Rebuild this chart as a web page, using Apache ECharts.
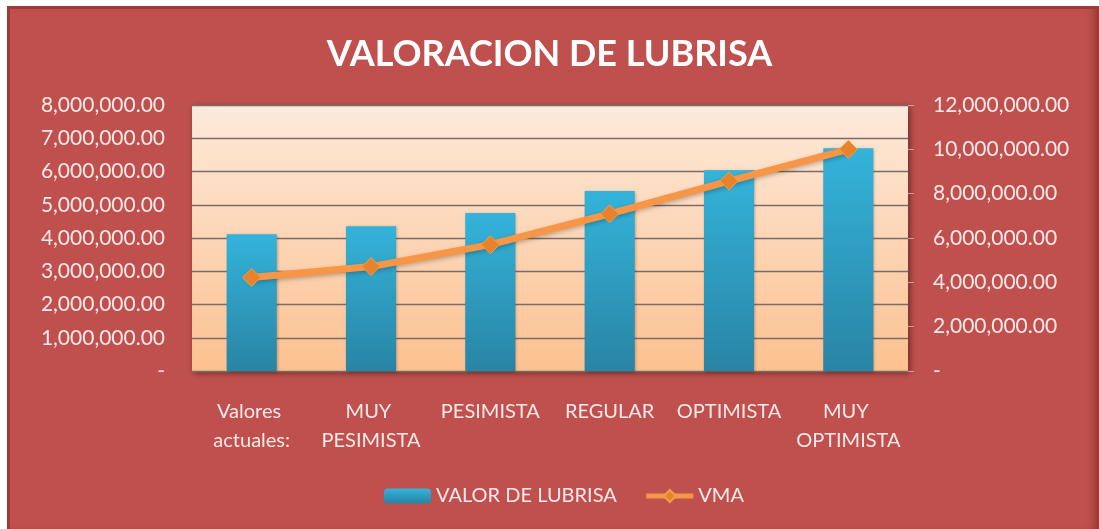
<!DOCTYPE html>
<html>
<head>
<meta charset="utf-8">
<script src="https://cdn.jsdelivr.net/npm/echarts@6/dist/echarts.min.js"></script>
<style>
  html, body { margin: 0; padding: 0; background: #fff; }
  #frame {
    position: absolute; left: 7px; top: 6px; width: 1092px; height: 523px;
    background: #C0504D;
    box-shadow: inset 3px 3px 0 #9E3A37, inset -8px 0 8px -4px #8E3431;
  }
  #chart { position: absolute; left: -7px; top: -6px; width: 1099px; height: 529px; }
</style>
</head>
<body>
<div id="frame"><div id="chart"></div></div>
<script>
var categories = ['Valores actuales:', 'MUY PESIMISTA', 'PESIMISTA', 'REGULAR', 'OPTIMISTA', 'MUY OPTIMISTA'];
var valorLubrisa = [4110000, 4350000, 4750000, 5410000, 6040000, 6700000];
var vma = [4220000, 4710000, 5700000, 7090000, 8570000, 10000000];

var labelColor = '#F9E9E8';
function fmt(v) {
  if (v === 0) return '-';
  return v.toLocaleString('en-US', { minimumFractionDigits: 2, maximumFractionDigits: 2 });
}

var myChart = echarts.init(document.getElementById('chart'));
var option = {
  backgroundColor: 'transparent',
  textStyle: { fontFamily: 'Lato' },
  title: {
    text: 'VALORACION DE LUBRISA',
    left: 'center',
    top: 31,
    textStyle: { color: '#fff', fontSize: 36, fontWeight: 'bold', fontFamily: 'Lato' }
  },
  legend: {
    top: 481,
    left: 379,
    itemWidth: 47,
    itemHeight: 15,
    itemGap: 27,
    textStyle: { color: labelColor, fontSize: 20, fontFamily: 'Lato' },
    lineStyle: { width: 5 },
    data: ['VALOR DE LUBRISA', 'VMA']
  },
  grid: {
    left: 192, right: 191, top: 105, bottom: 158,
    show: true,
    borderWidth: 0,
    backgroundColor: new echarts.graphic.LinearGradient(0, 0, 0, 1, [
      { offset: 0, color: '#FDEADB' },
      { offset: 1, color: '#FCC190' }
    ]),
    shadowBlur: 6,
    shadowColor: 'rgba(0,0,0,0.45)',
    shadowOffsetX: 2,
    shadowOffsetY: 2
  },
  xAxis: {
    type: 'category',
    data: categories,
    axisLine: { show: false },
    axisTick: { show: false },
    axisLabel: {
      color: labelColor, fontSize: 20, margin: 26, lineHeight: 29,
      width: 118, overflow: 'break', interval: 0
    }
  },
  yAxis: [
    {
      type: 'value',
      min: 0, max: 8000000, interval: 1000000,
      axisLine: { show: false },
      axisTick: { show: false },
      splitLine: { lineStyle: { color: '#7A6C66', width: 1.3 } },
      axisLabel: { color: labelColor, fontSize: 21, margin: 27, formatter: fmt }
    },
    {
      type: 'value',
      min: 0, max: 12000000, interval: 2000000,
      position: 'right',
      axisLine: { show: false },
      axisTick: { show: true, length: 6, lineStyle: { color: '#D99A98' } },
      splitLine: { show: false },
      axisLabel: { color: labelColor, fontSize: 21, margin: 25, formatter: fmt }
    }
  ],
  series: [
    {
      name: 'VALOR DE LUBRISA',
      type: 'bar',
      data: valorLubrisa,
      barWidth: '42%',
      itemStyle: {
        color: new echarts.graphic.LinearGradient(0, 0, 0, 1, [
          { offset: 0, color: '#34B3DA' },
          { offset: 1, color: '#2984A4' }
        ]),
        shadowBlur: 3,
        shadowColor: 'rgba(0,0,0,0.3)',
        shadowOffsetX: 1,
        shadowOffsetY: 1
      }
    },
    {
      name: 'VMA',
      type: 'line',
      yAxisIndex: 1,
      data: vma,
      symbol: 'diamond',
      symbolSize: 18,
      lineStyle: { color: '#F79646', width: 7, shadowBlur: 4, shadowColor: 'rgba(0,0,0,0.25)', shadowOffsetY: 2 },
      itemStyle: { color: '#E8832C', borderColor: '#F59A4A', borderWidth: 1 }
    }
  ]
};
myChart.setOption(option);
</script>
</body>
</html>
